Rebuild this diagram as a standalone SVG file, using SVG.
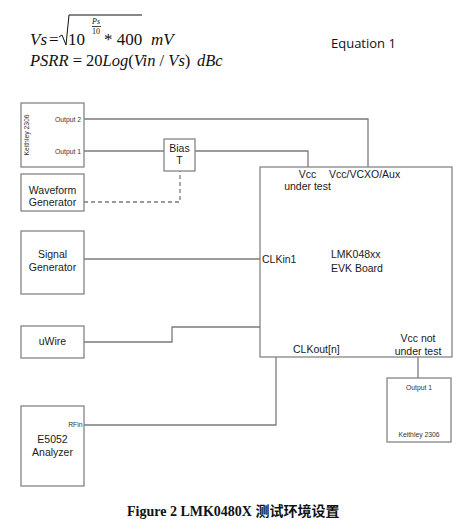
<svg xmlns="http://www.w3.org/2000/svg" width="467" height="530" viewBox="0 0 467 530">
<style>
.box{fill:#fff;stroke:#858585;stroke-width:1.3}
.ln{fill:none;stroke:#7a7a7a;stroke-width:1.3}
.t{font-family:"Liberation Sans",Arial,sans-serif;font-size:10.5px;fill:#1a1a1a}
.s{font-family:"Liberation Sans",Arial,sans-serif;font-size:6.8px;fill:#333}
.eq{font-family:"Liberation Serif","Times New Roman",serif;font-size:17px;fill:#111}
.i{font-style:italic}
.sm{font-family:"Liberation Serif","Times New Roman",serif;font-size:8px;fill:#111}
</style>
<rect width="467" height="530" fill="#fff"/>
<g id="equation">
<text class="eq i" x="30" y="44.5">Vs</text>
<text class="eq" x="49" y="44.5">=</text>
<path d="M59 37 L62 35 L66 45 L69 15 L142 15" fill="none" stroke="#111" stroke-width="1"/>
<text class="eq" x="68" y="44.5">10</text>
<text class="sm i" x="96" y="24" text-anchor="middle">Ps</text>
<line x1="92" y1="26.5" x2="101" y2="26.5" stroke="#111" stroke-width="0.8"/>
<text class="sm" x="96" y="34" text-anchor="middle">10</text>
<text class="eq" x="104" y="44.5">* 400</text>
<text class="eq i" x="151" y="44.5">mV</text>
<text class="eq" x="30" y="66" style="font-size:16.5px"><tspan class="i">PSRR</tspan> = 20<tspan class="i">Log</tspan>(<tspan class="i">Vin</tspan> / <tspan class="i">Vs</tspan>)<tspan class="i" x="197">dBc</tspan></text>
<text x="331" y="48" font-family="'Open Sans','Liberation Sans',sans-serif" font-size="13" fill="#111">Equation 1</text>
</g>
<g id="connectors">
<polyline class="ln" points="84,119 368,119 368,167"/>
<line class="ln" x1="84" y1="151" x2="164" y2="151"/>
<polyline class="ln" points="195,151 308,151 308,167"/>
<polyline class="ln" points="84,202 180,202 180,171" stroke-dasharray="4,3"/>
<line class="ln" x1="84" y1="259" x2="260" y2="259"/>
<polyline class="ln" points="84,342 172,342 172,327 260,327"/>
<polyline class="ln" points="84,425 276,425 276,357"/>
<line class="ln" x1="418" y1="357" x2="418" y2="378"/>
</g>
<g id="keithley1">
<rect class="box" x="21" y="103" width="63" height="64"/>
<text class="s" transform="translate(29,135) rotate(-90)" text-anchor="middle">Keithley 2306</text>
<text class="s" x="81" y="121.5" text-anchor="end">Output 2</text>
<text class="s" x="81" y="153.5" text-anchor="end">Output 1</text>
</g>
<g id="biasT">
<rect class="box" x="164" y="139" width="31" height="32"/>
<text class="t" x="179.5" y="152" text-anchor="middle">Bias</text>
<text class="t" x="179.5" y="164" text-anchor="middle">T</text>
</g>
<g id="waveform">
<rect class="box" x="21" y="174" width="63" height="37"/>
<text class="t" x="52.5" y="194" text-anchor="middle">Waveform</text>
<text class="t" x="52.5" y="206" text-anchor="middle">Generator</text>
</g>
<g id="signalgen">
<rect class="box" x="21" y="231" width="63" height="63"/>
<text class="t" x="52.5" y="258" text-anchor="middle">Signal</text>
<text class="t" x="52.5" y="271" text-anchor="middle">Generator</text>
</g>
<g id="uwire">
<rect class="box" x="21" y="326" width="63" height="32"/>
<text class="t" x="52.5" y="345" text-anchor="middle">uWire</text>
</g>
<g id="e5052">
<rect class="box" x="21" y="406" width="63" height="80"/>
<text class="s" x="82.5" y="427" text-anchor="end">RFin</text>
<text class="t" x="52.5" y="443" text-anchor="middle">E5052</text>
<text class="t" x="52.5" y="456" text-anchor="middle">Analyzer</text>
</g>
<g id="evk">
<rect class="box" x="260" y="167" width="192" height="190"/>
<text class="t" x="307.5" y="178" text-anchor="middle">Vcc</text>
<text class="t" x="307.5" y="190" text-anchor="middle">under test</text>
<text class="t" x="329" y="178">Vcc/VCXO/Aux</text>
<text class="t" x="262" y="263">CLKin1</text>
<text class="t" x="331" y="258">LMK048xx</text>
<text class="t" x="331" y="272">EVK Board</text>
<text class="t" x="293" y="353">CLKout[n]</text>
<text class="t" x="418" y="342" text-anchor="middle">Vcc not</text>
<text class="t" x="418" y="355" text-anchor="middle">under test</text>
</g>
<g id="keithley2">
<rect class="box" x="387" y="378" width="64" height="64"/>
<text class="s" x="419" y="390" text-anchor="middle">Output 1</text>
<text class="s" x="419" y="437" text-anchor="middle">Keithley 2306</text>
</g>
<text x="127" y="516" font-family="'Liberation Serif','Noto Sans CJK SC',serif" font-weight="bold" font-size="14" fill="#111">Figure 2 LMK0480X 测试环境设置</text>
</svg>
